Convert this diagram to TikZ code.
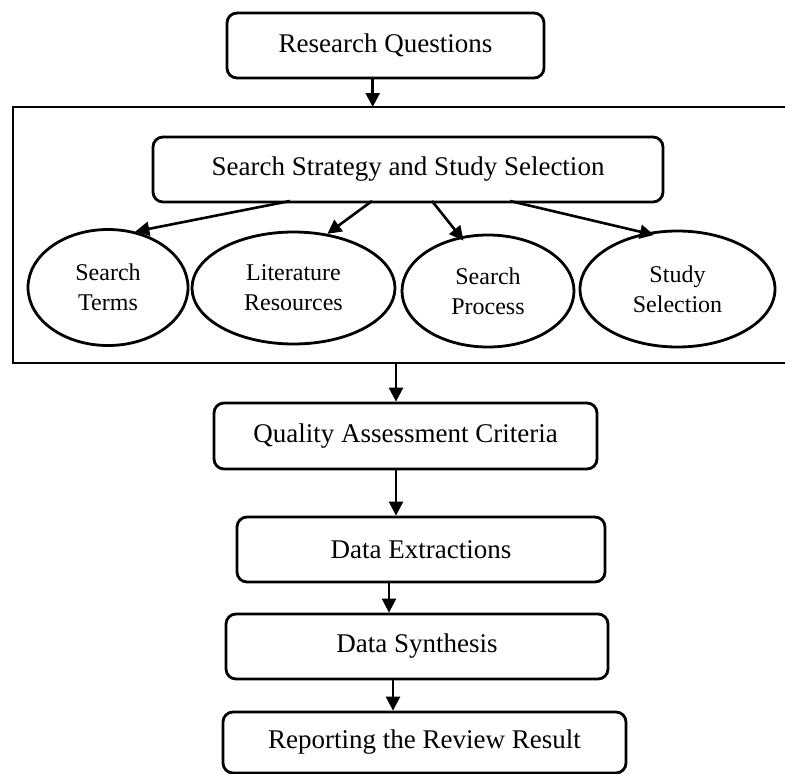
\documentclass[tikz,border=0pt]{standalone}
\usepackage{fontspec}
\setmainfont{Liberation Serif}
\usetikzlibrary{arrows.meta,shapes.geometric}
\begin{document}
\begin{tikzpicture}[x=1pt,y=-1pt,
  box/.style={draw,line width=2.8pt,rounded corners=10pt,inner sep=0pt,font=\fontsize{27}{32}\selectfont},
  oval/.style={draw,ellipse,line width=2.8pt,inner sep=0pt,align=center,font=\fontsize{24}{30}\selectfont},
  arr/.style={line width=2.6pt,-{Triangle[length=14pt,width=14pt]}},
  frame/.style={line width=2.8pt}]
\useasboundingbox (0,0) rectangle (785,774);
% boxes
\node[box,minimum width=317pt,minimum height=65pt] (rq) at (385.5,45.5) {Research Questions};
\node[box,minimum width=510pt,minimum height=65pt] (sss) at (408,169.5) {Search Strategy and Study Selection};
\node[box,minimum width=383pt,minimum height=66pt] (qac) at (405.5,436) {Quality Assessment Criteria};
\node[box,minimum width=368pt,minimum height=65pt] (de) at (421,549.5) {Data Extractions};
\node[box,minimum width=382pt,minimum height=65pt] (ds) at (417,646.5) {Data Synthesis};
\node[box,minimum width=403pt,minimum height=61pt] (rrr) at (424.5,742.5) {Reporting the Review Result};
% ellipses
\node[oval,minimum width=160pt,minimum height=116pt] (st) at (108,287.5) {Search\\Terms};
\node[oval,minimum width=203pt,minimum height=112pt] (lr) at (293.5,288) {Literature\\Resources};
\node[oval,minimum width=172pt,minimum height=112pt] (sp) at (488,291) {Search\\Process};
\node[oval,minimum width=195pt,minimum height=116pt] (ss) at (677.5,289) {Study\\Selection};
% frame
\draw[frame] (792,107) -- (13,107) -- (13,363) -- (792,363);
\coordinate (ftop) at (372.7,107);
\coordinate (fbot) at (396,363);
\coordinate (s1) at (290,201);
\coordinate (s2) at (372,201);
\coordinate (s3) at (432,201);
\coordinate (s4) at (510,201);
\coordinate (c1) at (389,0);
\coordinate (c2) at (393,0);
% connectors
\draw[arr] (rq.south -| ftop) -- (ftop);
\draw[arr] (s1) -- (st.64);
\draw[arr] (s2) -- (lr.58);
\draw[arr,shorten >=-5pt] (s3) -- (sp.117);
\draw[arr,shorten >=-9pt] (s4) -- (ss.120);
\draw[arr] (fbot) -- (qac.north -| fbot);
\draw[arr] (qac.south -| fbot) -- (de.north -| fbot);
\draw[arr] (de.south -| c1) -- (ds.north -| c1);
\draw[arr] (ds.south -| c2) -- (rrr.north -| c2);
\end{tikzpicture}
\end{document}
